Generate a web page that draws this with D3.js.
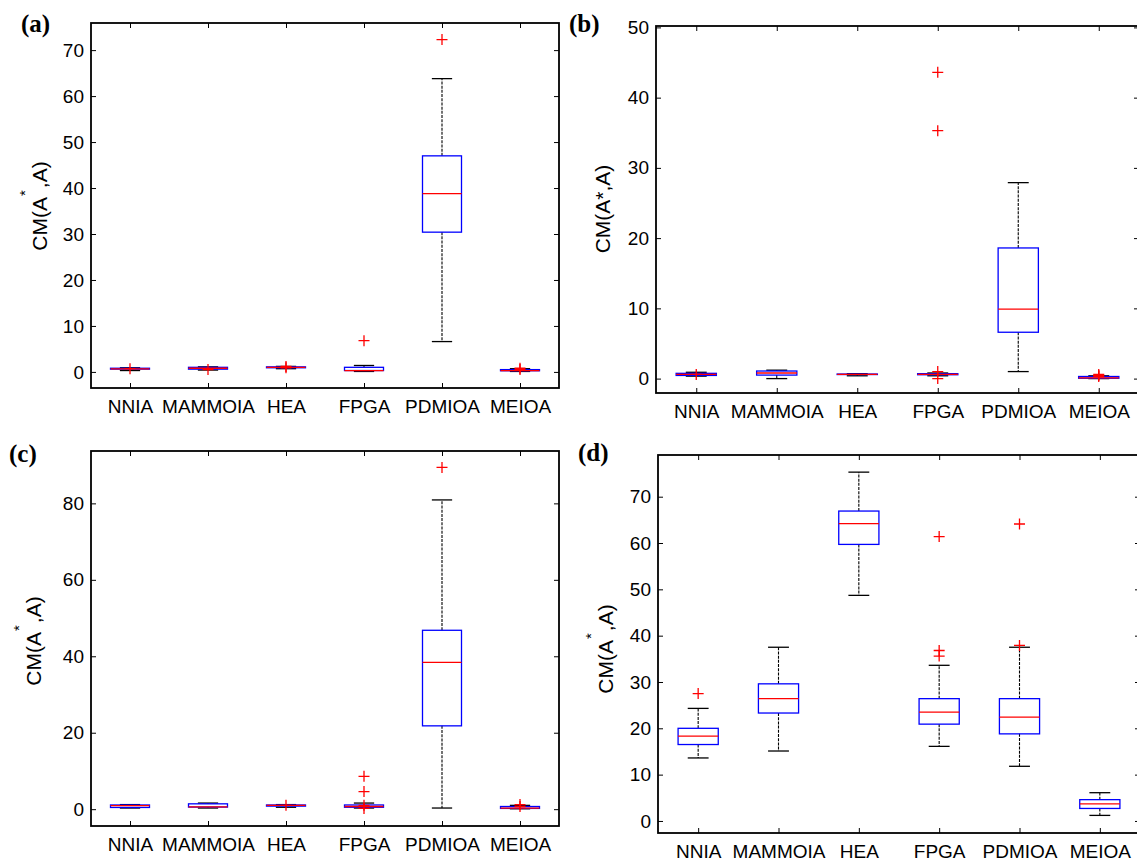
<!DOCTYPE html>
<html>
<head>
<meta charset="utf-8">
<script src="https://cdn.jsdelivr.net/npm/d3@7"></script>
<style>
  body { margin: 0; background: #fff; }
  svg { display: block; font-family: "Liberation Sans", Arial, sans-serif; }
  .tick text { font-size: 19px; fill: #000; }
  .tick line { stroke: #000; stroke-width: 1; }
</style>
</head>
<body>
<svg id="chart" width="1137" height="866"></svg>
<script>
// Algorithm names along the x axis
var categories = ["NNIA", "MAMMOIA", "HEA", "FPGA", "PDMIOA", "MEIOA"];

// Box statistics per algorithm: [whisker low, q1, median, q3, whisker high]
var statsA = [
  [0.3, 0.6, 0.65, 0.8, 0.9],
  [0.4, 0.6, 0.8, 1.0, 1.1],
  [0.7, 0.9, 1.0, 1.1, 1.2],
  [0.1, 0.3, 0.3, 1.0, 1.4],
  [6.6, 30.4, 38.8, 47.0, 63.8],
  [0.1, 0.25, 0.3, 0.5, 0.7]
];
var outliersA = [[0.7], [0.5], [0.9, 1.2], [6.8], [72.3], [0.8, 0.5]];
var yTicksA = [0, 10, 20, 30, 40, 50, 60, 70];

var statsB = [
  [0.35, 0.45, 0.6, 0.75, 0.9],
  [0.0, 0.5, 0.8, 1.08, 1.2],
  [0.4, 0.58, 0.6, 0.65, 0.7],
  [0.4, 0.55, 0.6, 0.7, 0.8],
  [1.0, 6.6, 9.9, 18.6, 27.9],
  [0.0, 0.05, 0.1, 0.3, 0.4]
];
var outliersB = [[0.6], [], [], [43.6, 35.3, 1.0, 0.0], [], [0.6, 0.3, 0.45]];
var yTicksB = [0, 10, 20, 30, 40, 50];

var statsC = [
  [0.3, 0.45, 0.95, 1.1, 1.2],
  [0.3, 0.55, 0.6, 1.4, 1.6],
  [0.5, 0.8, 1.0, 1.1, 1.2],
  [0.3, 0.5, 0.7, 1.1, 1.6],
  [0.3, 21.8, 38.4, 46.8, 80.9],
  [0.1, 0.2, 0.3, 0.7, 1.0]
];
var outliersC = [[], [], [1.0], [8.6, 4.6, 1.0, 0.2], [89.4], [1.2, 0.7]];
var yTicksC = [0, 20, 40, 60, 80];

var statsD = [
  [13.6, 16.5, 18.3, 20.0, 24.3],
  [15.1, 23.3, 26.4, 29.6, 37.5],
  [48.7, 59.7, 64.2, 66.9, 75.3],
  [16.1, 20.9, 23.5, 26.4, 33.6],
  [11.8, 18.8, 22.4, 26.4, 37.5],
  [1.2, 2.7, 3.7, 4.6, 6.1]
];
var outliersD = [[27.5], [], [], [61.4, 36.8, 35.6], [64.1, 37.9], []];
var yTicksD = [0, 10, 20, 30, 40, 50, 60, 70];

var svg = d3.select("#chart");

/* Draw one box-plot panel.
   p: { letter, stats, outliers, ticks, domain, left, right, top, bottom,
        labelX, labelY, titleX, titleY, starRaised } */
function drawPanel(p) {
  var g = svg.append("g");

  // Scales: categories sit at 1..6, frame spans 0.5..6.5
  var x = d3.scaleLinear().domain([0.5, 6.5]).range([p.left, p.right]);
  var y = d3.scaleLinear().domain(p.domain).range([p.bottom, p.top]);
  var pos = categories.map(function(d, i) { return i + 1; });

  // Left axis with inward ticks
  g.append("g")
    .attr("transform", `translate(${p.left},0)`)
    .call(d3.axisLeft(y).tickValues(p.ticks).tickSize(-5).tickPadding(7).tickSizeOuter(0))
    .call(function(s) { s.select(".domain").remove(); });

  // Right axis, ticks only
  g.append("g")
    .attr("transform", `translate(${p.right},0)`)
    .call(d3.axisRight(y).tickValues(p.ticks).tickSize(-5).tickFormat("").tickSizeOuter(0))
    .call(function(s) { s.select(".domain").remove(); });

  // Bottom axis with category names
  g.append("g")
    .attr("transform", `translate(0,${p.bottom})`)
    .call(d3.axisBottom(x).tickValues(pos).tickSize(-5).tickPadding(12).tickSizeOuter(0)
      .tickFormat(function(d) { return categories[d - 1]; }))
    .call(function(s) { s.select(".domain").remove(); });

  // Top axis, ticks only
  g.append("g")
    .attr("transform", `translate(0,${p.top})`)
    .call(d3.axisTop(x).tickValues(pos).tickSize(-5).tickFormat("").tickSizeOuter(0))
    .call(function(s) { s.select(".domain").remove(); });

  var boxW = 0.25, capW = 0.13;

  var boxes = g.selectAll(".box")
    .data(p.stats)
    .enter()
    .append("g")
    .attr("class", "box");

  // Dashed whiskers
  boxes.append("line")
    .attr("x1", function(d, i) { return x(i + 1); })
    .attr("x2", function(d, i) { return x(i + 1); })
    .attr("y1", function(d) { return y(d[3]); })
    .attr("y2", function(d) { return y(d[4]); })
    .attr("stroke", "#000").attr("stroke-width", 1.1).attr("stroke-dasharray", "3,1.2");
  boxes.append("line")
    .attr("x1", function(d, i) { return x(i + 1); })
    .attr("x2", function(d, i) { return x(i + 1); })
    .attr("y1", function(d) { return y(d[1]); })
    .attr("y2", function(d) { return y(d[0]); })
    .attr("stroke", "#000").attr("stroke-width", 1.1).attr("stroke-dasharray", "3,1.2");

  // Whisker caps
  [0, 4].forEach(function(k) {
    boxes.append("line")
      .attr("x1", function(d, i) { return x(i + 1 - capW); })
      .attr("x2", function(d, i) { return x(i + 1 + capW); })
      .attr("y1", function(d) { return y(d[k]); })
      .attr("y2", function(d) { return y(d[k]); })
      .attr("stroke", "#000").attr("stroke-width", 1.3);
  });

  // Interquartile box
  boxes.append("rect")
    .attr("x", function(d, i) { return x(i + 1 - boxW); })
    .attr("width", function(d, i) { return x(i + 1 + boxW) - x(i + 1 - boxW); })
    .attr("y", function(d) { return y(d[3]); })
    .attr("height", function(d) { return Math.max(y(d[1]) - y(d[3]), 0.5); })
    .attr("fill", "none").attr("stroke", "#0000ff").attr("stroke-width", 1.3);

  // Median
  boxes.append("line")
    .attr("x1", function(d, i) { return x(i + 1 - boxW); })
    .attr("x2", function(d, i) { return x(i + 1 + boxW); })
    .attr("y1", function(d) { return y(d[2]); })
    .attr("y2", function(d) { return y(d[2]); })
    .attr("stroke", "#ff0000").attr("stroke-width", 1.3);

  // Outliers as red plus signs
  var pts = [];
  p.outliers.forEach(function(list, i) {
    list.forEach(function(v) { pts.push({ c: i + 1, v: v }); });
  });
  g.selectAll(".outlier")
    .data(pts)
    .enter()
    .append("path")
    .attr("class", "outlier")
    .attr("d", function(d) {
      var cx = x(d.c), cy = y(d.v);
      return `M${cx - 5.5},${cy}H${cx + 5.5}M${cx},${cy - 5.5}V${cy + 5.5}`;
    })
    .attr("stroke", "#ff0000").attr("stroke-width", 1.3).attr("fill", "none");

  // Frame
  g.append("rect")
    .attr("x", p.left).attr("y", p.top)
    .attr("width", p.right - p.left).attr("height", p.bottom - p.top)
    .attr("fill", "none").attr("stroke", "#000").attr("stroke-width", 1.8);

  // Y axis title
  var t = g.append("text")
    .attr("transform", `translate(${p.labelX},${p.labelY}) rotate(-90)`)
    .attr("text-anchor", "middle")
    .attr("font-size", 21)
    .attr("fill", "#000");
  if (p.starRaised) {
    t.append("tspan").text("CM(A");
    t.append("tspan").attr("font-size", 15).attr("dy", -17).attr("dx", 1).text("*");
    t.append("tspan").attr("dy", 17).attr("dx", 2).text(",A)");
  } else {
    t.text("CM(A*,A)");
  }

  // Panel letter
  g.append("text")
    .attr("x", p.titleX).attr("y", p.titleY)
    .attr("font-family", "'Liberation Serif', 'Times New Roman', serif")
    .attr("font-weight", "bold")
    .attr("font-size", 25)
    .attr("fill", "#000")
    .text(`(${p.letter})`);
}

drawPanel({ letter: "a", stats: statsA, outliers: outliersA, ticks: yTicksA,
  domain: [-3.5, 75.9], left: 91, right: 559, top: 23, bottom: 388,
  labelX: 47, labelY: 206, titleX: 21, titleY: 32, starRaised: true });

drawPanel({ letter: "b", stats: statsB, outliers: outliersB, ticks: yTicksB,
  domain: [-2.05, 50.2], left: 656, right: 1139, top: 26, bottom: 393,
  labelX: 610, labelY: 209, titleX: 569, titleY: 32, starRaised: false });

drawPanel({ letter: "c", stats: statsC, outliers: outliersC, ticks: yTicksC,
  domain: [-4.4, 93.7], left: 91, right: 559, top: 451, bottom: 826,
  labelX: 41, labelY: 641, titleX: 9, titleY: 462, starRaised: true });

drawPanel({ letter: "d", stats: statsD, outliers: outliersD, ticks: yTicksD,
  domain: [-2.6, 79], left: 658, right: 1140, top: 455, bottom: 833,
  labelX: 613, labelY: 649, titleX: 578, titleY: 461, starRaised: true });
</script>
</body>
</html>
